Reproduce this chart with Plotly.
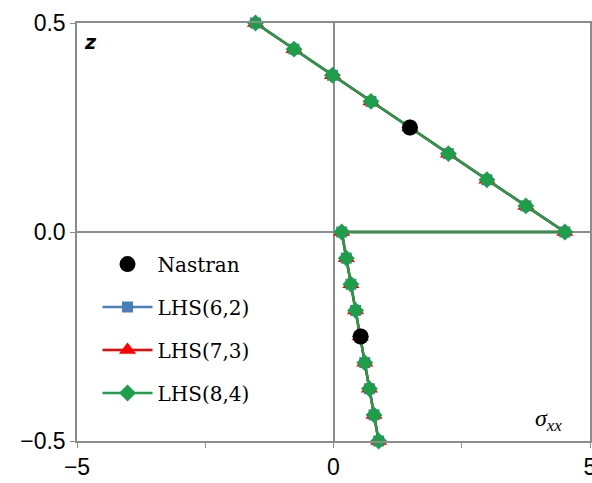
import plotly.graph_objects as go

# Through-thickness coordinate z (top layer then bottom layer)
z_vals = [0.5, 0.4375, 0.375, 0.3125, 0.25, 0.1875, 0.125, 0.0625, 0.0,
          0.0, -0.0625, -0.125, -0.1875, -0.25, -0.3125, -0.375, -0.4375, -0.5]

# sigma_xx values
lhs62 = [-1.52, -0.77, -0.02, 0.73, 1.49, 2.24, 2.99, 3.75, 4.51,
         0.16, 0.25, 0.34, 0.43, 0.52, 0.61, 0.70, 0.79, 0.88]
lhs73 = [-1.52, -0.77, -0.02, 0.73, 1.49, 2.24, 2.99, 3.75, 4.51,
         0.16, 0.25, 0.34, 0.43, 0.52, 0.61, 0.70, 0.79, 0.88]
lhs84 = [-1.52, -0.77, -0.02, 0.73, 1.49, 2.24, 2.99, 3.75, 4.51,
         0.16, 0.25, 0.34, 0.43, 0.52, 0.61, 0.70, 0.79, 0.88]

nastran_x = [1.49, 0.53]
nastran_z = [0.25, -0.25]

x_ticks = [-5, 0, 5]
x_ticktext = ["\u22125", "0", "5"]
x_minor_ticks = [-2.5, 2.5]
y_ticks = [-0.5, 0.0, 0.5]
y_ticktext = ["\u22120.5", "0.0", "0.5"]

fig = go.Figure()
fig.add_trace(go.Scatter(x=lhs62, y=z_vals, mode="lines+markers", name="LHS(6,2)",
                         legendgroup="b", legendrank=2,
                         line=dict(color="#4a7ebb", width=2.5),
                         marker=dict(symbol="square", size=11, color="#4a7ebb")))
fig.add_trace(go.Scatter(x=lhs73, y=z_vals, mode="lines+markers", name="LHS(7,3)",
                         legendgroup="c", legendrank=3,
                         line=dict(color="#ff0000", width=2.5),
                         marker=dict(symbol="triangle-up", size=15, color="#ff0000")))
fig.add_trace(go.Scatter(x=lhs84, y=z_vals, mode="lines+markers", name="LHS(8,4)",
                         legendgroup="d", legendrank=4,
                         line=dict(color="#1e9e4a", width=2.5),
                         marker=dict(symbol="diamond", size=13, color="#1e9e4a")))
fig.add_trace(go.Scatter(x=nastran_x, y=nastran_z, mode="markers", name="Nastran",
                         legendgroup="a", legendrank=1,
                         marker=dict(symbol="circle", size=16, color="black")))

fig.update_traces(cliponaxis=False)

fig.update_layout(
    width=592, height=483,
    margin=dict(l=77, r=2, t=23, b=42),
    plot_bgcolor="white", paper_bgcolor="white",
    showlegend=True,
    legend=dict(x=0.04, y=0.47, xanchor="left", yanchor="top",
                bgcolor="rgba(0,0,0,0)", traceorder="grouped",
                tracegroupgap=14, itemwidth=50,
                font=dict(family="DejaVu Serif", size=20, color="black")),
    xaxis=dict(range=[-5, 5], tickvals=x_ticks, ticktext=x_ticktext, automargin=False,
               ticklabeloverflow="allow",
               minor=dict(tickvals=x_minor_ticks, ticks="outside", ticklen=5,
                          tickcolor="#8c8c8c", showgrid=False),
               showgrid=False, zeroline=True, zerolinecolor="#8c8c8c", zerolinewidth=1.5,
               showline=True, linecolor="#8c8c8c", linewidth=1.5, mirror=True,
               ticks="outside", ticklen=5, tickcolor="#8c8c8c",
               tickfont=dict(family="Liberation Sans", size=23, color="black")),
    yaxis=dict(range=[-0.5, 0.5], tickvals=y_ticks, ticktext=y_ticktext, automargin=False,
               ticklabeloverflow="allow",
               showgrid=False, zeroline=True, zerolinecolor="#8c8c8c", zerolinewidth=1.5,
               showline=True, linecolor="#8c8c8c", linewidth=1.5, mirror=True,
               ticks="outside", ticklen=5, tickcolor="#8c8c8c",
               tickfont=dict(family="Liberation Sans", size=23, color="black")),
    annotations=[
        dict(x=0.01, y=0.985, xref="paper", yref="paper", xanchor="left", yanchor="top",
             text="<b><i>z</i></b>", showarrow=False,
             font=dict(family="DejaVu Sans", size=19, color="black")),
        dict(x=0.95, y=0.01, xref="paper", yref="paper", xanchor="right", yanchor="bottom",
             text="<i>\u03c3<sub>xx</sub></i>", showarrow=False,
             font=dict(family="Liberation Serif", size=24, color="black")),
    ],
)

fig.write_html("out.html", config={"displayModeBar": False},
               post_script="document.body.style.margin='0';document.body.style.overflow='hidden';")
